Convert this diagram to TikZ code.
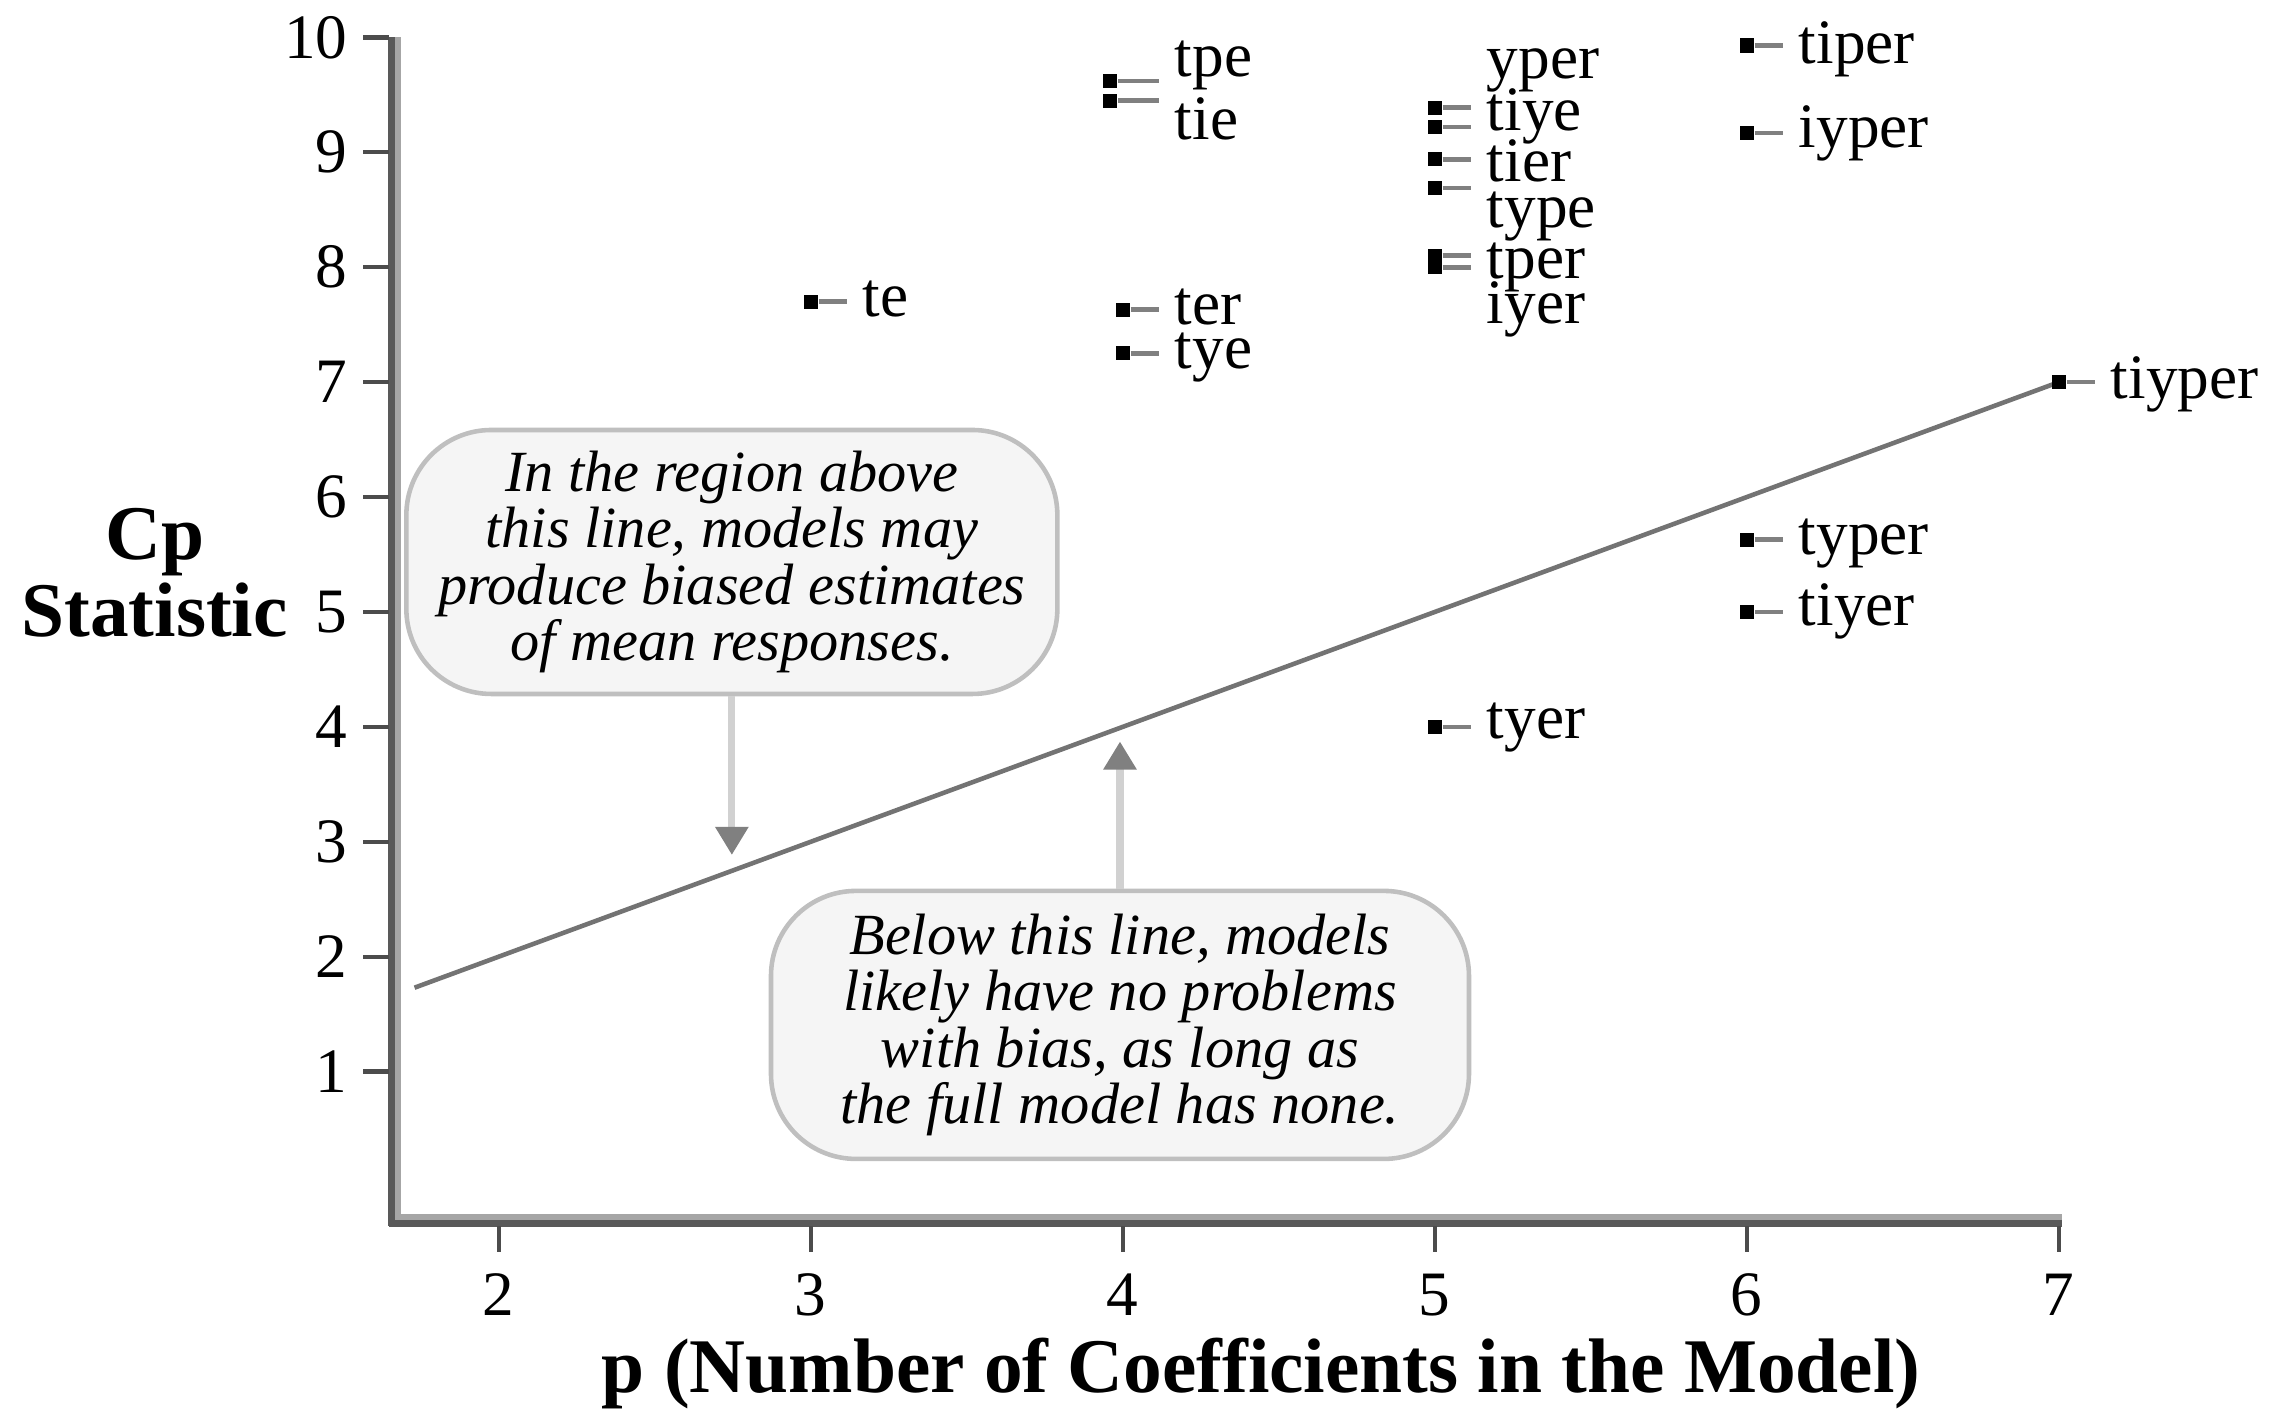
\documentclass[tikz,border=0pt]{standalone}
\usepackage{fontspec}
\setmainfont{Liberation Serif}
\usetikzlibrary{arrows.meta}

\tikzset{
  axisdark/.style={line width=1.9pt, black!65},
  axislight/.style={line width=1.7pt, black!35},
  tickline/.style={line width=1.2pt, black!70},
  ticklabel/.style={font=\fontsize{18}{20}\selectfont, inner sep=0pt},
  marker/.style={fill=black, minimum size=4pt, inner sep=0pt},
  leader/.style={line width=1.3pt, black!50},
  ptlabel/.style={font=\fontsize{18}{20}\selectfont, inner sep=0pt, anchor=base west},
  note/.style={draw=black!25, line width=1.3pt, fill=black!4, rounded corners=0.85cm,
    align=center, font=\fontsize{16.6}{16.1}\selectfont\itshape, inner sep=0pt},
  pointer/.style={line width=2pt, black!18,
    -{Triangle[width=9pt,length=8pt,color=black!50,fill=black!50]}},
  fitline/.style={line width=1.3pt, black!55},
  axistitle/.style={font=\fontsize{22}{22}\selectfont\bfseries, inner sep=0pt}
}

\begin{document}
\begin{tikzpicture}[x=3.12cm, y=1.149cm]
    \useasboundingbox (0.4013,-1.980) rectangle (7.709,10.326);

    % axes
    \coordinate (origin) at (1.667,-0.292);
    \coordinate (ytop) at (1.667,10);
    \coordinate (xend) at (7.01,-0.292);
    \draw[axislight] ([xshift=0.85pt]ytop) -- ([xshift=0.85pt,yshift=0.85pt]origin);
    \draw[axislight] ([xshift=-1.8pt,yshift=0.85pt]origin) -- ([yshift=0.85pt]xend);
    \draw[axisdark] ([xshift=-0.9pt]ytop) -- ([xshift=-0.9pt,yshift=-1.8pt]origin);
    \draw[axisdark] ([xshift=-1.8pt,yshift=-0.9pt]origin) -- ([yshift=-0.9pt]xend);

    \foreach \c in {1,...,10} {
      \draw[tickline] (1.565,\c) -- ([xshift=-1.8pt]1.667,\c);
      \node[ticklabel, anchor=east] (ytick\c) at (1.517,\c) {\c};
    }
    \foreach \p in {2,...,7} {
      \draw[tickline] ([yshift=-1.8pt]\p,-0.292) -- (\p,-0.57);
      \node[ticklabel] (xtick\p) at (\p,-0.944) {\p};
    }

    \node[axistitle, align=center] (ytitle) at (0.897,5.34) {Cp\\Statistic};
    \node[axistitle] (xtitle) at (4.443,-1.632) {p (Number of Coefficients in the Model)};

    % Cp = p line
    \coordinate (fitstart) at (1.73,1.73);
    \coordinate (fitend) at (7,7);
    \draw[fitline] (fitstart) -- (fitend);

    % models
    \foreach \n/\p/\c/\b/\l in {te/3/7.70/7.57/3.165,
        tpe/3.96/9.62/9.66/4.165, tie/3.96/9.45/9.11/4.165,
        ter/4/7.63/7.50/4.165, tye/4/7.25/7.12/4.165,
        yper/5/9.39/9.645/5.165, tiye/5/9.22/9.19/5.165, tier/5/8.94/8.745/5.165,
        type/5/8.69/8.35/5.165, tper/5/8.10/7.90/5.165, iyer/5/8.00/7.51/5.165,
        tyer/5/4.00/3.90/5.165,
        tiper/6/9.93/9.77/6.165, iyper/6/9.17/9.04/6.165,
        typer/6/5.63/5.50/6.165, tiyer/6/5.00/4.88/6.165,
        tiyper/7/7.00/6.86/7.165} {
      \node[marker] (m-\n) at (\p,\c) {};
      \draw[leader] (m-\n.east) -- (\l-0.05,\c);
      \node[ptlabel] (l-\n) at (\l,\b) {\n};
    }

    % notes
    \node[note, minimum width=6.51cm, minimum height=2.64cm] (above) at (2.747,5.435)
      {In the region above\\this line, models may\\produce biased estimates\\of mean responses.};
    \node[note, minimum width=6.98cm, minimum height=2.68cm] (below) at (3.991,1.406)
      {Below this line, models\\likely have no problems\\with bias, as long as\\the full model has none.};
    \coordinate (tipa) at (2.747,2.885);
    \coordinate (tipb) at (3.991,3.873);
    \draw[pointer] (above.south) -- (tipa);
    \draw[pointer] (below.north) -- (tipb);
\end{tikzpicture}
\end{document}
